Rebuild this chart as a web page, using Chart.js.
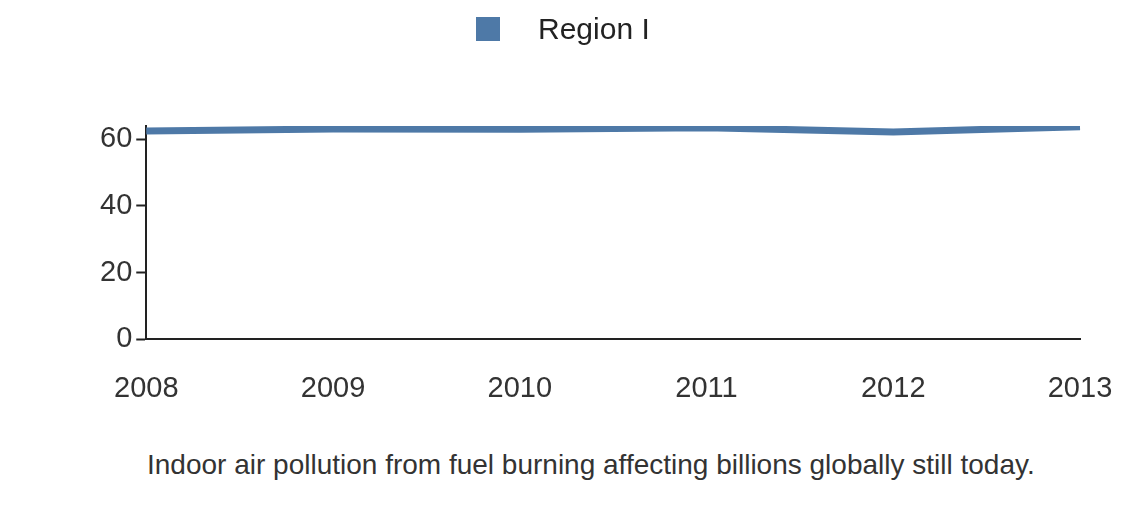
<!DOCTYPE html>
<html>
<head>
<meta charset="utf-8">
<script src="https://cdn.jsdelivr.net/npm/chart.js@4"></script>
<style>
  body { margin: 0; background: #fff; font-family: Arial, "Liberation Sans", sans-serif; }
  #wrap { position: relative; width: 1140px; height: 424px; }
  #legend { position: absolute; left: 476px; top: 12px; font-size: 30px; color: #222; z-index: 2; }
  #legend span.box { display: inline-block; width: 24px; height: 24px; background: #4e79a7; vertical-align: -2px; margin-right: 38px; }
  #caption { position: absolute; left: 147px; top: 448px; width: 900px; font-size: 28px; line-height: 34px; color: #333; }
</style>
</head>
<body>
<div id="legend"><span class="box"></span>Region I</div>
<div id="wrap"><canvas id="chart"></canvas></div>
<div id="caption">Indoor air pollution from fuel burning affecting billions globally still today.</div>
<script>
const years = ['2008', '2009', '2010', '2011', '2012', '2013'];
const regionI = [62.5, 63.1, 63.0, 63.5, 62.2, 63.8];
const yTicks = [0, 10, 20, 30, 40, 50, 60];

new Chart(document.getElementById('chart').getContext('2d'), {
    type: 'line',
    data: {
        labels: years,
        datasets: [{
            label: 'Region I',
            data: regionI,
            borderColor: '#4e79a7',
            backgroundColor: '#4e79a7',
            borderWidth: 7,
            pointRadius: 0,
            tension: 0
        }]
    },
    options: {
        responsive: true,
        maintainAspectRatio: false,
        animation: false,
        layout: { padding: { left: 96, right: 60, top: 126, bottom: 0 } },
        plugins: {
            legend: { display: false },
            tooltip: { enabled: false }
        },
        scales: {
            x: {
                offset: false,
                grid: { display: false, drawOnChartArea: false, drawTicks: true, tickLength: 14, tickWidth: 2, color: '#222' },
                border: { color: '#222', width: 2 },
                ticks: { color: '#333', padding: 18, maxRotation: 0, font: { size: 29, family: 'Arial, "Liberation Sans"' } }
            },
            y: {
                min: 0, max: 64,
                afterBuildTicks: function(axis) { axis.ticks = yTicks.map(v => ({ value: v })); },
                grid: { drawOnChartArea: false, drawTicks: true, tickLength: 10, tickWidth: 2, color: '#222' },
                border: { color: '#222', width: 2 },
                ticks: { color: '#333', padding: 4, font: { size: 29, family: 'Arial, "Liberation Sans"' } }
            }
        }
    }
});
</script>
</body>
</html>
